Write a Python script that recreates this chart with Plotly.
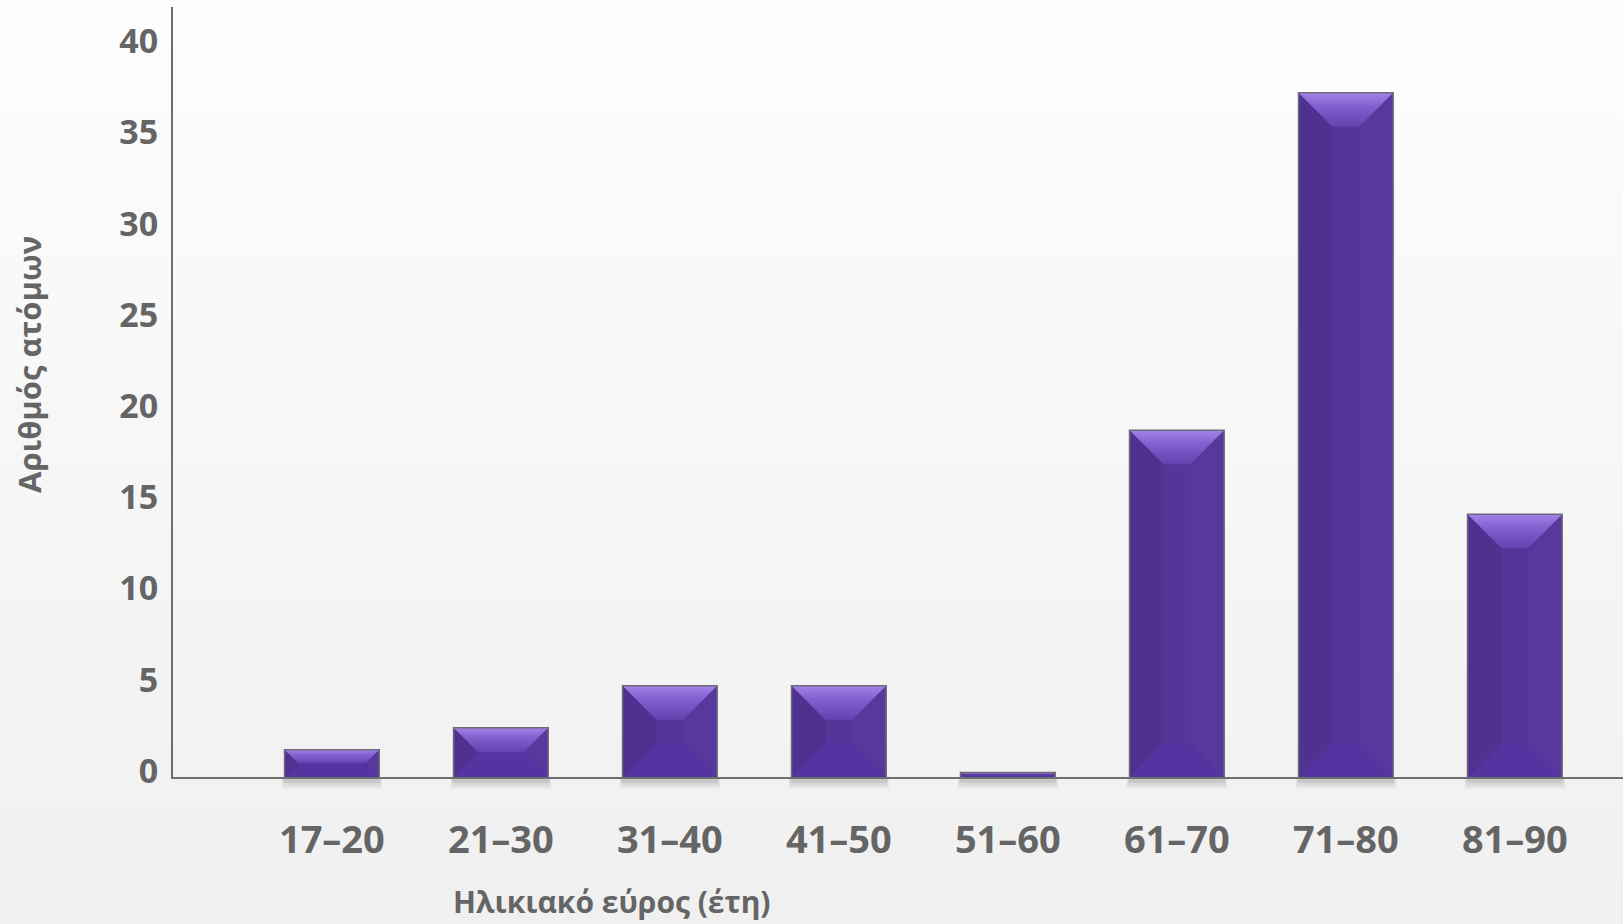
import plotly.graph_objects as go

# Age groups and number of people in each
age_groups = ["17–20", "21–30", "31–40", "41–50", "51–60", "61–70", "71–80", "81–90"]
people = [1.5, 2.7, 5.0, 5.0, 0.25, 19.0, 37.5, 14.4]
y_ticks = [0, 5, 10, 15, 20, 25, 30, 35, 40]

x_title = "Ηλικιακό εύρος (έτη)"
y_title = "Αριθμός ατόμων"

# Figure geometry
W, H = 1623, 924
M_L, M_R, M_T, M_B = 173, 0, 7, 147
X_RANGE = [-0.94, 7.64]
Y_RANGE = [0, 42.2]
BAR_W = 0.56
BEVEL_PX = 34

plot_w = W - M_L - M_R
plot_h = H - M_T - M_B
px_x = plot_w / (X_RANGE[1] - X_RANGE[0])   # pixels per x unit
px_y = plot_h / (Y_RANGE[1] - Y_RANGE[0])   # pixels per y unit

TEXT = "#656565"
FONT = "Open Sans"
BODY = "#55359a"
LEFT_FACE = "#51318f"
RIGHT_FACE = "#58389d"
BOTTOM_FACE = "#5434a0"
TOP_SCALE = [[0, "#6443b0"], [0.6, "#8160cf"], [1, "#a383e9"]]
OUTLINE = "#6c6a78"

xs = list(range(len(age_groups)))

fig = go.Figure()

# Bar bodies
fig.add_trace(go.Bar(
    x=xs, y=people, width=BAR_W,
    marker=dict(color=BODY, line=dict(width=0)),
    hoverinfo="skip", showlegend=False,
))

left_x, left_y = [], []
right_x, right_y = [], []
bot_x, bot_y = [], []
out_x, out_y = [], []
top_faces = []

for x, v in zip(xs, people):
    x0, x1 = x - BAR_W / 2, x + BAR_W / 2
    h_px = v * px_y
    w_px = BAR_W * px_x
    d = min(BEVEL_PX, h_px / 2, w_px / 2)
    dx, dy = d / px_x, d / px_y
    ix0, ix1 = x0 + dx, x1 - dx
    iy0, iy1 = dy, v - dy
    top_faces.append(([x0, x1, ix1, ix0, x0], [v, v, iy1, iy1, v]))
    left_x += [x0, ix0, ix0, x0, x0, None]
    left_y += [v, iy1, iy0, 0, v, None]
    right_x += [x1, ix1, ix1, x1, x1, None]
    right_y += [v, iy1, iy0, 0, v, None]
    bot_x += [x0, ix0, ix1, x1, x0, None]
    bot_y += [0, iy0, iy0, 0, 0, None]
    out_x += [x0, x0, x1, x1, None]
    out_y += [0, v, v, 0, None]

for fx, fy, col in [(left_x, left_y, LEFT_FACE),
                    (right_x, right_y, RIGHT_FACE),
                    (bot_x, bot_y, BOTTOM_FACE)]:
    fig.add_trace(go.Scatter(
        x=fx, y=fy, mode="lines", fill="toself", fillcolor=col,
        line=dict(width=0), hoverinfo="skip", showlegend=False,
    ))

for fx, fy in top_faces:
    fig.add_trace(go.Scatter(
        x=fx, y=fy, mode="lines", fill="toself",
        fillgradient=dict(type="vertical", colorscale=TOP_SCALE),
        line=dict(width=0), hoverinfo="skip", showlegend=False,
    ))

fig.add_trace(go.Scatter(
    x=out_x, y=out_y, mode="lines",
    line=dict(color=OUTLINE, width=1.5),
    hoverinfo="skip", showlegend=False,
))

shapes = []
# Soft vertical background gradient
n_bands = 40
top_c, bot_c = (253, 253, 253), (240, 240, 240)
y_lo, y_hi = -M_B / plot_h, 1 + M_T / plot_h
for i in range(n_bands):
    t = i / (n_bands - 1)
    c = tuple(round(bot_c[k] + (top_c[k] - bot_c[k]) * t) for k in range(3))
    shapes.append(dict(
        type="rect", xref="paper", yref="paper", layer="below",
        x0=-M_L / plot_w, x1=1.01,
        y0=y_lo + (y_hi - y_lo) * i / n_bands,
        y1=y_lo + (y_hi - y_lo) * (i + 1) / n_bands + 0.002,
        fillcolor="rgb(%d,%d,%d)" % c, line=dict(width=0),
    ))

# Drop shadow under each bar
for x in xs:
    for pad, depth, alpha in [(3, 12, 0.04), (2, 9, 0.06), (1, 6, 0.08)]:
        shapes.append(dict(
            type="rect", xref="x", yref="paper", layer="below",
            x0=x - BAR_W / 2 - pad / px_x, x1=x + BAR_W / 2 + pad / px_x,
            y0=-depth / plot_h, y1=0,
            fillcolor="rgba(0,0,0,%.2f)" % alpha, line=dict(width=0),
        ))

annotations = [
    dict(text="<b>%s</b>" % y_title, xref="paper", yref="paper",
         x=(29 - M_L) / plot_w, y=(H - M_B - 365) / plot_h,
         xanchor="center", yanchor="middle",
         textangle=-90, showarrow=False,
         font=dict(family=FONT, size=31, color=TEXT)),
    dict(text="<b>%s</b>" % x_title, xref="paper", yref="paper",
         x=(612 - M_L) / plot_w, y=(H - M_B - 901) / plot_h,
         xanchor="center", yanchor="middle",
         showarrow=False,
         font=dict(family=FONT, size=30, color=TEXT)),
]

fig.update_layout(
    width=W, height=H,
    margin=dict(l=M_L, r=M_R, t=M_T, b=M_B),
    paper_bgcolor="#f4f4f4",
    plot_bgcolor="rgba(0,0,0,0)",
    shapes=shapes,
    annotations=annotations,
    showlegend=False,
    xaxis=dict(
        range=X_RANGE, tickvals=xs, ticktext=age_groups,
        showgrid=False, zeroline=False,
        showline=True, linecolor="#6e6e6e", linewidth=2,
        ticks="", ticklabelstandoff=28,
        tickfont=dict(family=FONT, size=38, color=TEXT, weight="bold"),
    ),
    yaxis=dict(
        range=Y_RANGE, tickvals=y_ticks,
        showgrid=False, zeroline=False,
        showline=True, linecolor="#6e6e6e", linewidth=2,
        ticks="", ticklabelstandoff=6, ticklabelshift=-6,
        tickfont=dict(family=FONT, size=34, color=TEXT, weight="bold"),
    ),
)

fig.write_html("out.html")
